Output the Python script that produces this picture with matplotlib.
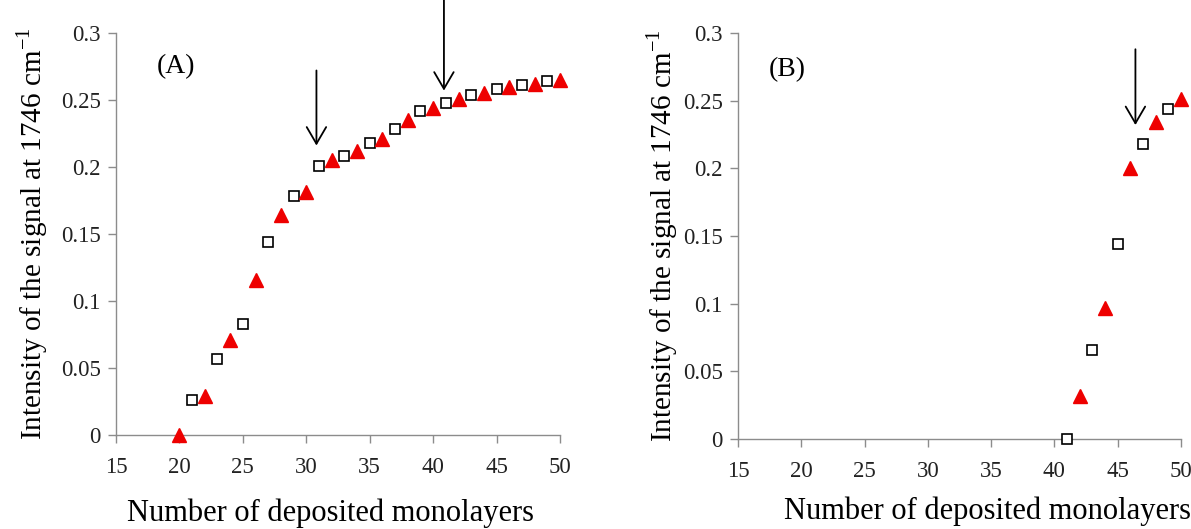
import matplotlib
matplotlib.use('Agg')
import matplotlib.pyplot as plt

plt.rcParams['font.family'] = ['Liberation Serif', 'DejaVu Serif']
plt.rcParams['mathtext.fontset'] = 'custom'
plt.rcParams['mathtext.rm'] = 'Liberation Serif'

# (A) 奇数層 = 四角, 偶数層 = 三角
a_sq_x = [21, 23, 25, 27, 29, 31, 33, 35, 37, 39, 41, 43, 45, 47, 49]
a_sq_y = [0.026, 0.057, 0.083, 0.144, 0.178, 0.201, 0.208, 0.218, 0.228, 0.242,
          0.248, 0.254, 0.258, 0.261, 0.264]
a_tri_x = [20, 22, 24, 26, 28, 30, 32, 34, 36, 38, 40, 42, 44, 46, 48, 50]
a_tri_y = [0.0, 0.029, 0.071, 0.116, 0.164, 0.181, 0.205, 0.212, 0.221, 0.235,
           0.244, 0.251, 0.255, 0.260, 0.262, 0.265]
a_arrows = [(30.8, 0.272, 0.216), (40.85, 0.325, 0.257)]

# (B)
b_sq_x = [41, 43, 45, 47, 49]
b_sq_y = [0.0, 0.066, 0.144, 0.218, 0.244]
b_tri_x = [42, 44, 46, 48, 50]
b_tri_y = [0.032, 0.097, 0.200, 0.234, 0.251]
b_arrows = [(46.4, 0.288, 0.232)]

yticks = [0, 0.05, 0.1, 0.15, 0.2, 0.25, 0.3]
ytick_labels = ['0', '0.05', '0.1', '0.15', '0.2', '0.25', '0.3']
xticks = [15, 20, 25, 30, 35, 40, 45, 50]

ylabel = 'Intensity of the signal at 1746 cm$^{\\mathregular{-1}}$'
xlabel = 'Number of deposited monolayers'

fig = plt.figure(figsize=(11.91, 5.29), dpi=100)
ax_a = fig.add_axes([0.0974, 0.1777, 0.3728, 0.76])
ax_b = fig.add_axes([0.6196, 0.1701, 0.3720, 0.7675])


def draw_panel(ax, sq_x, sq_y, tri_x, tri_y, arrows, tag, tag_xy, ylab_x, xlab_xy):
    ax.plot(sq_x, sq_y, 's', ms=7.5, mfc='white', mec='black', mew=1.2,
            linestyle='none', clip_on=False, zorder=3)
    ax.plot(tri_x, tri_y, '^', ms=9.5, mfc='#ee0000', mec='#ee0000',
            linestyle='none', clip_on=False, zorder=3)
    for x, y0, y1 in arrows:
        ax.annotate('', xy=(x, y1), xytext=(x, y0), annotation_clip=False,
                    arrowprops=dict(arrowstyle='->,head_length=1.2,head_width=0.7',
                                    color='black', lw=1.3, shrinkA=0, shrinkB=0))
    ax.text(tag_xy[0], tag_xy[1], tag, fontsize=20, ha='center', va='center')

    ax.set_xlim(15, 50)
    ax.set_ylim(0, 0.3)
    ax.set_xticks(xticks)
    ax.set_yticks(yticks)
    ax.set_yticklabels(ytick_labels)
    for s in ['top', 'right']:
        ax.spines[s].set_visible(False)
    for s in ['left', 'bottom']:
        ax.spines[s].set_color('#8c8c8c')
        ax.spines[s].set_linewidth(1.0)
    ax.tick_params(colors='#8c8c8c', labelcolor='#222222', labelsize=16.5,
                   length=6, width=1.0, direction='out')
    ax.tick_params(axis='x', pad=10)
    ax.tick_params(axis='y', pad=5)

    ax.set_ylabel(ylabel, fontsize=21)
    ax.yaxis.set_label_coords(ylab_x, 0.5)
    ax.set_xlabel(xlabel, fontsize=22)
    ax.xaxis.set_label_coords(xlab_xy[0], xlab_xy[1])


draw_panel(ax_a, a_sq_x, a_sq_y, a_tri_x, a_tri_y, a_arrows, '(A)', (19.7, 0.2746),
           -0.149, (0.482, -0.158))
draw_panel(ax_b, b_sq_x, b_sq_y, b_tri_x, b_tri_y, b_arrows, '(B)', (18.9, 0.2727),
           -0.131, (0.564, -0.142))

fig.savefig('out.png', dpi=100)
